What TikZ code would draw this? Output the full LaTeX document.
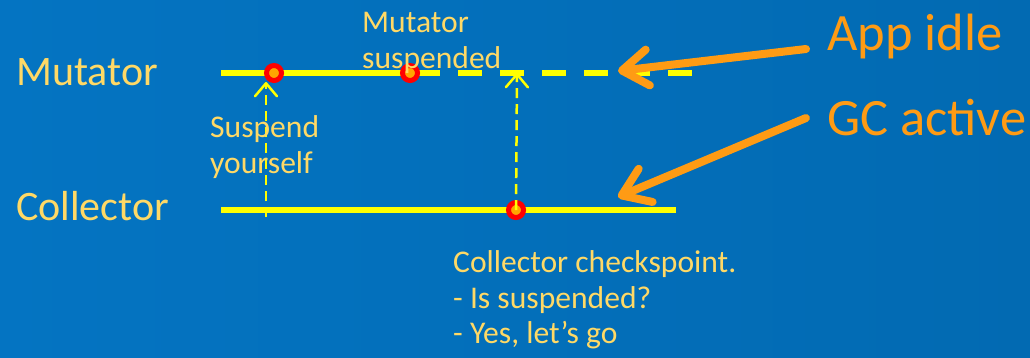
\documentclass[tikz,border=0pt]{standalone}
\usepackage{fontspec}
\setmainfont{Carlito}
\usetikzlibrary{arrows.meta}
\definecolor{bgL}{RGB}{4,116,194}
\definecolor{bgR}{RGB}{2,106,178}
\definecolor{lbl}{RGB}{255,217,102}
\definecolor{org}{RGB}{255,155,20}
\definecolor{ylw}{RGB}{255,255,0}
\definecolor{dotin}{RGB}{255,165,0}
\tikzset{
  big/.style={font=\fontsize{42}{48}\selectfont, text=lbl, inner sep=0pt, anchor=base west},
  small/.style={font=\fontsize{31.6}{36}\selectfont, text=lbl, inner sep=0pt, anchor=base west},
  huge/.style={font=\fontsize{52.5}{60}\selectfont, text=org, inner sep=0pt, anchor=base west},
  timeline/.style={draw=ylw, line width=6pt},
  event/.style={circle, draw=red, line width=5pt, fill=dotin, minimum size=15pt, inner sep=0pt},
  signal/.style={draw=ylw, line width=2.5pt, dash pattern=on 10pt off 6pt, -{Straight Barb[length=13pt,width=22pt,round]}},
  pointer/.style={draw=org, line width=8pt, line cap=round, -{Straight Barb[length=26pt,width=36pt,round]}}
}
\begin{document}
\begin{tikzpicture}[x=1pt,y=-1pt]
\shade[left color=bgL, right color=bgR] (0,0) rectangle (1030,357);
\useasboundingbox (0,0) rectangle (1030,357);

% labels
\node[big] (mut) at (16,85) {Mutator};
\node[big] (col) at (16,220) {Collector};
\node[huge] (idle) at (827,50) {App idle};
\node[huge] (gc) at (827,135) {GC active};

% timelines
\coordinate (ms) at (221,73);
\coordinate (me) at (440,73);
\coordinate (ds) at (458,73);
\coordinate (de) at (692,73);
\coordinate (cs) at (221,210);
\coordinate (ce) at (676,210);
\draw[timeline] (ms) -- (me);
\draw[timeline, dash pattern=on 24pt off 18pt] (ds) -- (de);
\draw[timeline] (cs) -- (ce);

% signal arrows
\coordinate (s1a) at (266,217);
\coordinate (s1b) at (266,82);
\draw[signal] (s1a) -- (s1b);

% events
\node[event] (e1) at (274,73) {};
\node[event] (e2) at (410,73) {};
\node[event] (e3) at (516,210) {};
\coordinate (s2b) at (517,73);
\draw[signal] (e3.center) -- (s2b);

% small texts
\node[small] (ms1) at (362,32) {Mutator};
\node[small] (ms2) at (362,68) {suspended};
\node[small] (sy1) at (210,137) {Suspend};
\node[small] (sy2) at (210,173) {yourself};
\node[small] (cc1) at (453,272) {Collector checkspoint.};
\node[small] (cc2) at (453,308) {- Is suspended?};
\node[small] (cc3) at (453,343) {- Yes, let’s go};

% pointers
\coordinate (p1s) at (806,49);
\coordinate (p1e) at (618,71);
\coordinate (p2s) at (806,118);
\coordinate (p2e) at (618,197);
\draw[pointer] (p1s) -- (p1e);
\draw[pointer] (p2s) -- (p2e);
\end{tikzpicture}
\end{document}
